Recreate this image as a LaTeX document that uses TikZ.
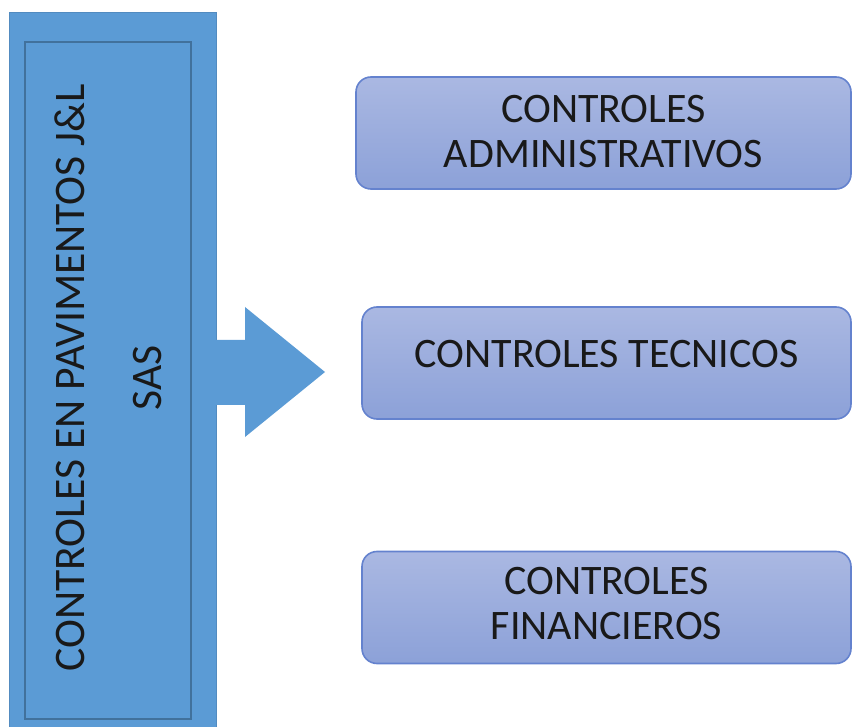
\documentclass[tikz,border=0pt]{standalone}
\usepackage{fontspec}
\setmainfont{Carlito}
\definecolor{barblue}{RGB}{91,155,213}
\definecolor{frameblue}{RGB}{65,113,156}
\definecolor{boxtop}{RGB}{170,184,226}
\definecolor{boxbot}{RGB}{140,161,216}
\definecolor{boxline}{RGB}{100,130,206}
\begin{document}
\begin{tikzpicture}[x=0.5pt,y=-0.5pt]
        \tikzstyle{every node}=[inner sep=0pt, text=black!90]
        \tikzstyle{bar}=[rectangle, fill=barblue, draw=barblue!90!black, line width=0.4pt]
        \tikzstyle{ctrl}=[rectangle, rounded corners=7.5pt, top color=boxtop, bottom color=boxbot, draw=boxline, line width=0.8pt, minimum height=56pt]
        \tikzstyle{ctrltext}=[font=\fontsize{21}{22.5}\selectfont]

        \useasboundingbox (0,0) rectangle (852,727);

        \node[bar, minimum width=103.5pt, minimum height=357.5pt] (bar) at (112.5,369.5) {};
        \node[rectangle, draw=frameblue, line width=0.6pt, minimum width=83pt, minimum height=338.5pt] (frame) at (108,380.5) {};
        \node[rotate=90, font=\fontsize{21.8}{38.5}\selectfont] (title) at (107.5,378)
            {\begin{tabular}{c} CONTROLES EN PAVIMENTOS J\&L \\ SAS \end{tabular}};

        % block arrow
        \fill[barblue] ([xshift=-1pt]bar.east |- 0,340) -- (245,340) -- (245,307) -- (325,372)
            -- (245,437) -- (245,405) -- ([xshift=-1pt]bar.east |- 0,405) -- cycle;

        \node[ctrl, minimum width=247.5pt] (adm) at (603.5,133)   {};
        \node[ctrl, minimum width=244.5pt] (tec) at (606.5,363)   {};
        \node[ctrl, minimum width=244.5pt] (fin) at (606.5,607.5) {};

        \node[ctrltext] (adm-t) at ([yshift=-1.75pt]adm.center) {\begin{tabular}{c} CONTROLES \\ ADMINISTRATIVOS \end{tabular}};
        \node[ctrltext] (tec-t) at ([yshift=4.5pt]tec.center)   {CONTROLES TECNICOS};
        \node[ctrltext] (fin-t) at (fin.center)                 {\begin{tabular}{c} CONTROLES \\ FINANCIEROS \end{tabular}};
    \end{tikzpicture}
\end{document}
